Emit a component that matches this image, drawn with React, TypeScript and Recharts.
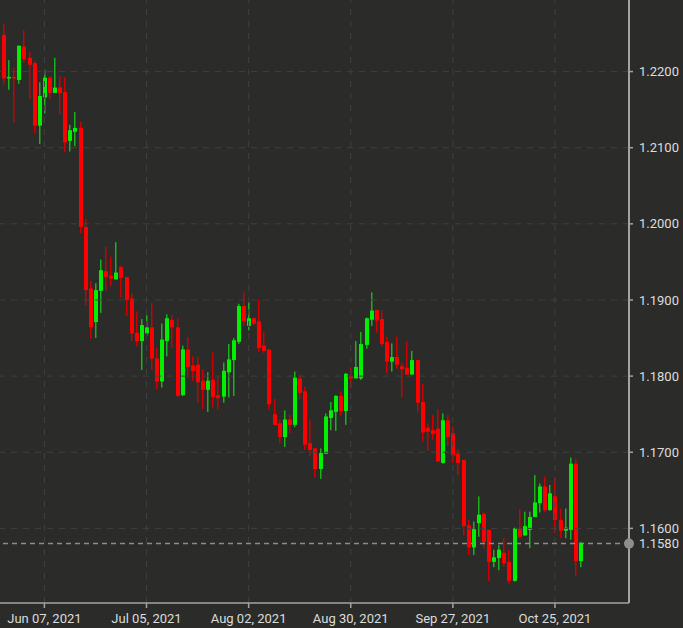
import React from 'react';
import { ComposedChart, Bar, XAxis, YAxis, ReferenceLine } from 'recharts';

// Trading days (categories)
const dates = [
  '2021-05-26', '2021-05-27', '2021-05-28', '2021-05-31',
  '2021-06-01', '2021-06-02', '2021-06-03', '2021-06-04', '2021-06-07', '2021-06-08', '2021-06-09', '2021-06-10', '2021-06-11',
  '2021-06-14', '2021-06-15', '2021-06-16', '2021-06-17', '2021-06-18', '2021-06-21', '2021-06-22', '2021-06-23', '2021-06-24',
  '2021-06-25', '2021-06-28', '2021-06-29', '2021-06-30',
  '2021-07-01', '2021-07-02', '2021-07-05', '2021-07-06', '2021-07-07', '2021-07-08', '2021-07-09', '2021-07-12', '2021-07-13',
  '2021-07-14', '2021-07-15', '2021-07-16', '2021-07-19', '2021-07-20', '2021-07-21', '2021-07-22', '2021-07-23', '2021-07-26',
  '2021-07-27', '2021-07-28', '2021-07-29', '2021-07-30',
  '2021-08-02', '2021-08-03', '2021-08-04', '2021-08-05', '2021-08-06', '2021-08-09', '2021-08-10', '2021-08-11', '2021-08-12',
  '2021-08-13', '2021-08-16', '2021-08-17', '2021-08-18', '2021-08-19', '2021-08-20', '2021-08-23', '2021-08-24', '2021-08-25',
  '2021-08-26', '2021-08-27', '2021-08-30', '2021-08-31',
  '2021-09-01', '2021-09-02', '2021-09-03', '2021-09-06', '2021-09-07', '2021-09-08', '2021-09-09', '2021-09-10', '2021-09-13',
  '2021-09-14', '2021-09-15', '2021-09-16', '2021-09-17', '2021-09-20', '2021-09-21', '2021-09-22', '2021-09-23', '2021-09-24',
  '2021-09-27', '2021-09-28', '2021-09-29', '2021-09-30',
  '2021-10-01', '2021-10-04', '2021-10-05', '2021-10-06', '2021-10-07', '2021-10-08', '2021-10-11', '2021-10-12', '2021-10-13',
  '2021-10-14', '2021-10-15', '2021-10-18', '2021-10-19', '2021-10-20', '2021-10-21', '2021-10-22', '2021-10-25', '2021-10-26',
  '2021-10-27', '2021-10-28', '2021-10-29',
  '2021-11-01',
];

// Empty slots to the right of the last candle
const padSlots = ['p1', 'p2', 'p3', 'p4', 'p5', 'p6', 'p7', 'p8', 'p9'];

const opens = [
  1.2248, 1.2191, 1.2193, 1.2189, 1.2233, 1.2218, 1.2211, 1.2129, 1.2166, 1.2192,
  1.2172, 1.2179, 1.2173, 1.2109, 1.2121, 1.2126, 1.1996, 1.1915, 1.1871, 1.1912,
  1.1938, 1.1932, 1.1927, 1.1943, 1.1930, 1.1902, 1.1857, 1.1846, 1.1856, 1.1864,
  1.1823, 1.1793, 1.1846, 1.1874, 1.1864, 1.1775, 1.1835, 1.1814, 1.1815, 1.1794,
  1.1782, 1.1795, 1.1775, 1.1773, 1.1805, 1.1821, 1.1845, 1.1892, 1.1866, 1.1876,
  1.1872, 1.1840, 1.1835, 1.1750, 1.1738, 1.1720, 1.1743, 1.1736, 1.1797, 1.1780,
  1.1712, 1.1705, 1.1678, 1.1698, 1.1745, 1.1753, 1.1774, 1.1754, 1.1800, 1.1797,
  1.1797, 1.1841, 1.1874, 1.1887, 1.1875, 1.1845, 1.1819, 1.1825, 1.1813, 1.1811,
  1.1802, 1.1821, 1.1766, 1.1732, 1.1729, 1.1731, 1.1686, 1.1742, 1.1725, 1.1698,
  1.1690, 1.1604, 1.1575, 1.1607, 1.1619, 1.1598, 1.1556, 1.1561, 1.1568, 1.1556,
  1.1531, 1.1600, 1.1591, 1.1598, 1.1615, 1.1633, 1.1655, 1.1624, 1.1642, 1.1611,
  1.1597, 1.1598, 1.1685, 1.1557,
];

const highs = [
  1.2263, 1.2215, 1.2205, 1.2234, 1.2254, 1.2226, 1.2214, 1.2186, 1.2202, 1.2194,
  1.2218, 1.2194, 1.2193, 1.2130, 1.2147, 1.2134, 1.2006, 1.1925, 1.1922, 1.1953,
  1.1970, 1.1957, 1.1976, 1.1945, 1.1930, 1.1909, 1.1885, 1.1875, 1.1880, 1.1896,
  1.1837, 1.1869, 1.1881, 1.1880, 1.1876, 1.1840, 1.1851, 1.1826, 1.1825, 1.1809,
  1.1805, 1.1831, 1.1799, 1.1818, 1.1842, 1.1850, 1.1895, 1.1910, 1.1897, 1.1877,
  1.1900, 1.1858, 1.1835, 1.1770, 1.1743, 1.1755, 1.1749, 1.1806, 1.1802, 1.1786,
  1.1743, 1.1706, 1.1705, 1.1751, 1.1766, 1.1775, 1.1780, 1.1804, 1.1811, 1.1846,
  1.1858, 1.1877, 1.1910, 1.1887, 1.1886, 1.1852, 1.1843, 1.1852, 1.1817, 1.1846,
  1.1833, 1.1821, 1.1790, 1.1738, 1.1749, 1.1756, 1.1751, 1.1749, 1.1734, 1.1704,
  1.1690, 1.1611, 1.1609, 1.1642, 1.1621, 1.1599, 1.1572, 1.1578, 1.1587, 1.1572,
  1.1601, 1.1625, 1.1622, 1.1622, 1.1670, 1.1659, 1.1668, 1.1657, 1.1667, 1.1626,
  1.1626, 1.1693, 1.1691, 1.1582,
];

const lows = [
  1.2183, 1.2176, 1.2133, 1.2184, 1.2212, 1.2164, 1.2119, 1.2105, 1.2145, 1.2164,
  1.2172, 1.2144, 1.2094, 1.2095, 1.2102, 1.1988, 1.1893, 1.1849, 1.1850, 1.1883,
  1.1912, 1.1918, 1.1927, 1.1903, 1.1879, 1.1846, 1.1839, 1.1808, 1.1853, 1.1808,
  1.1783, 1.1785, 1.1826, 1.1837, 1.1773, 1.1774, 1.1798, 1.1794, 1.1765, 1.1757,
  1.1753, 1.1759, 1.1756, 1.1765, 1.1772, 1.1774, 1.1842, 1.1866, 1.1860, 1.1867,
  1.1832, 1.1830, 1.1756, 1.1736, 1.1712, 1.1707, 1.1725, 1.1733, 1.1770, 1.1703,
  1.1695, 1.1667, 1.1665, 1.1698, 1.1729, 1.1728, 1.1748, 1.1736, 1.1784, 1.1797,
  1.1795, 1.1836, 1.1866, 1.1857, 1.1839, 1.1803, 1.1806, 1.1810, 1.1772, 1.1802,
  1.1802, 1.1752, 1.1714, 1.1702, 1.1716, 1.1687, 1.1685, 1.1708, 1.1686, 1.1670,
  1.1591, 1.1565, 1.1565, 1.1589, 1.1574, 1.1531, 1.1549, 1.1545, 1.1550, 1.1527,
  1.1530, 1.1586, 1.1590, 1.1574, 1.1615, 1.1621, 1.1621, 1.1623, 1.1594, 1.1587,
  1.1587, 1.1585, 1.1537, 1.1549,
];

const closes = [
  1.2191, 1.2193, 1.2191, 1.2234, 1.2216, 1.2209, 1.2129, 1.2168, 1.2192, 1.2172,
  1.2179, 1.2172, 1.2107, 1.2123, 1.2126, 1.1996, 1.1913, 1.1864, 1.1913, 1.1939,
  1.1930, 1.1928, 1.1936, 1.1929, 1.1900, 1.1856, 1.1846, 1.1867, 1.1864, 1.1823,
  1.1793, 1.1848, 1.1876, 1.1864, 1.1774, 1.1835, 1.1812, 1.1807, 1.1792, 1.1782,
  1.1794, 1.1773, 1.1771, 1.1807, 1.1822, 1.1847, 1.1892, 1.1872, 1.1876, 1.1869,
  1.1837, 1.1833, 1.1763, 1.1736, 1.1720, 1.1743, 1.1736, 1.1798, 1.1778, 1.1710,
  1.1703, 1.1678, 1.1699, 1.1747, 1.1755, 1.1774, 1.1754, 1.1803, 1.1797, 1.1812,
  1.1842, 1.1876, 1.1886, 1.1873, 1.1842, 1.1819, 1.1825, 1.1815, 1.1809, 1.1802,
  1.1821, 1.1765, 1.1726, 1.1727, 1.1724, 1.1688, 1.1742, 1.1720, 1.1696, 1.1686,
  1.1603, 1.1575, 1.1599, 1.1618, 1.1582, 1.1556, 1.1562, 1.1572, 1.1554, 1.1531,
  1.1600, 1.1589, 1.1603, 1.1615, 1.1634, 1.1655, 1.1624, 1.1646, 1.1611, 1.1597,
  1.1601, 1.1685, 1.1557, 1.1581,
];

const xTicks = ['2021-06-07', '2021-07-05', '2021-08-02', '2021-08-30', '2021-09-27', '2021-10-25'];
const xTickLabels = ['Jun 07, 2021', 'Jul 05, 2021', 'Aug 02, 2021', 'Aug 30, 2021', 'Sep 27, 2021', 'Oct 25, 2021'];
const gridY = [1.16, 1.17, 1.18, 1.19, 1.2, 1.21, 1.22];
const lastPrice = 1.158;
const yTicks = [...gridY, lastPrice];
const yDomain = [1.1502, 1.2294];

const data = [
  ...dates.map((d, i) => ({
    date: d,
    open: opens[i],
    high: highs[i],
    low: lows[i],
    close: closes[i],
    range: [lows[i], highs[i]],
  })),
  ...padSlots.map((p) => ({ date: p })),
];

const BG = '#2b2c2a';
const GRID = '#3f413e';
const AXIS = '#a3a3a3';
const TEXT = '#dcdcdc';
const FONT = 'Roboto, "Noto Sans", sans-serif';

const Candle = (props: any) => {
  const { x, y, width, height, payload } = props;
  if (!payload || payload.open == null || x == null || y == null) return null;
  const { open, close, high, low } = payload;
  const yTop = height < 0 ? y + height : y;
  const h = Math.abs(height);
  const span = high - low;
  const pos = (v: number) => yTop + (span === 0 ? 0 : ((high - v) / span) * h);
  const up = close >= open;
  const cx = Math.round(x + width / 2);
  const top = pos(Math.max(open, close));
  const bot = pos(Math.min(open, close));
  const bodyColor = up ? '#00f000' : '#ff0000';
  const wickColor = up ? '#1cb01c' : '#cc0000';
  return (
    <g>
      <rect x={cx - 1} y={yTop} width={1.5} height={h} fill={wickColor} />
      <rect x={cx - 2} y={top} width={4} height={Math.max(1.5, bot - top)} fill={bodyColor} />
    </g>
  );
};

const XTick = (props: any) => {
  const { x, y, payload } = props;
  const idx = xTicks.indexOf(payload.value);
  const label = idx >= 0 ? xTickLabels[idx] : '';
  return (
    <text x={x} y={y} dy="0.71em" textAnchor="middle" fill={TEXT} fontSize={13} fontFamily={FONT}>
      {label}
    </text>
  );
};

const YTick = (props: any) => {
  const { x, y, payload } = props;
  const v = payload.value as number;
  const isLast = Math.abs(v - lastPrice) < 1e-9;
  return (
    <g>
      {isLast && <circle cx={x - 10} cy={y} r={5} fill="#8e8e8e" />}
      <text x={x} y={y} dy="0.355em" textAnchor="start" fill={TEXT} fontSize={13} fontFamily={FONT}>
        {v.toFixed(4)}
      </text>
    </g>
  );
};

export default function App() {
  return (
    <div style={{ position: 'absolute', left: 0, top: 0, width: 683, height: 628, background: BG }}>
      <ComposedChart
        width={683}
        height={628}
        data={data}
        margin={{ top: 0, right: 0, bottom: 0, left: 0 }}
        style={{ background: BG }}
      >
        <XAxis
          dataKey="date"
          type="category"
          ticks={xTicks}
          interval={0}
          height={25}
          padding={{ left: 1, right: 0 }}
          tick={<XTick />}
          tickSize={5}
          tickMargin={6}
          axisLine={{ stroke: AXIS, strokeWidth: 1.5 }}
          tickLine={{ stroke: AXIS, strokeWidth: 1.5 }}
        />
        <YAxis
          orientation="right"
          type="number"
          domain={yDomain}
          allowDataOverflow
          ticks={yTicks}
          interval={0}
          width={54}
          tick={<YTick />}
          tickSize={4}
          tickMargin={6}
          axisLine={{ stroke: AXIS, strokeWidth: 2 }}
          tickLine={{ stroke: AXIS, strokeWidth: 1.5 }}
        />
        {gridY.map((v) => (
          <ReferenceLine key={'gy' + v} y={v} stroke={GRID} strokeDasharray="6 6" ifOverflow="extendDomain" />
        ))}
        {xTicks.map((d) => (
          <ReferenceLine key={'gx' + d} x={d} stroke={GRID} strokeDasharray="6 6" />
        ))}
        <ReferenceLine y={lastPrice} stroke="#8c8c8c" strokeWidth={1.5} strokeDasharray="5 4" />
        <Bar dataKey="range" barSize={4} shape={<Candle />} isAnimationActive={false} />
      </ComposedChart>
    </div>
  );
}
